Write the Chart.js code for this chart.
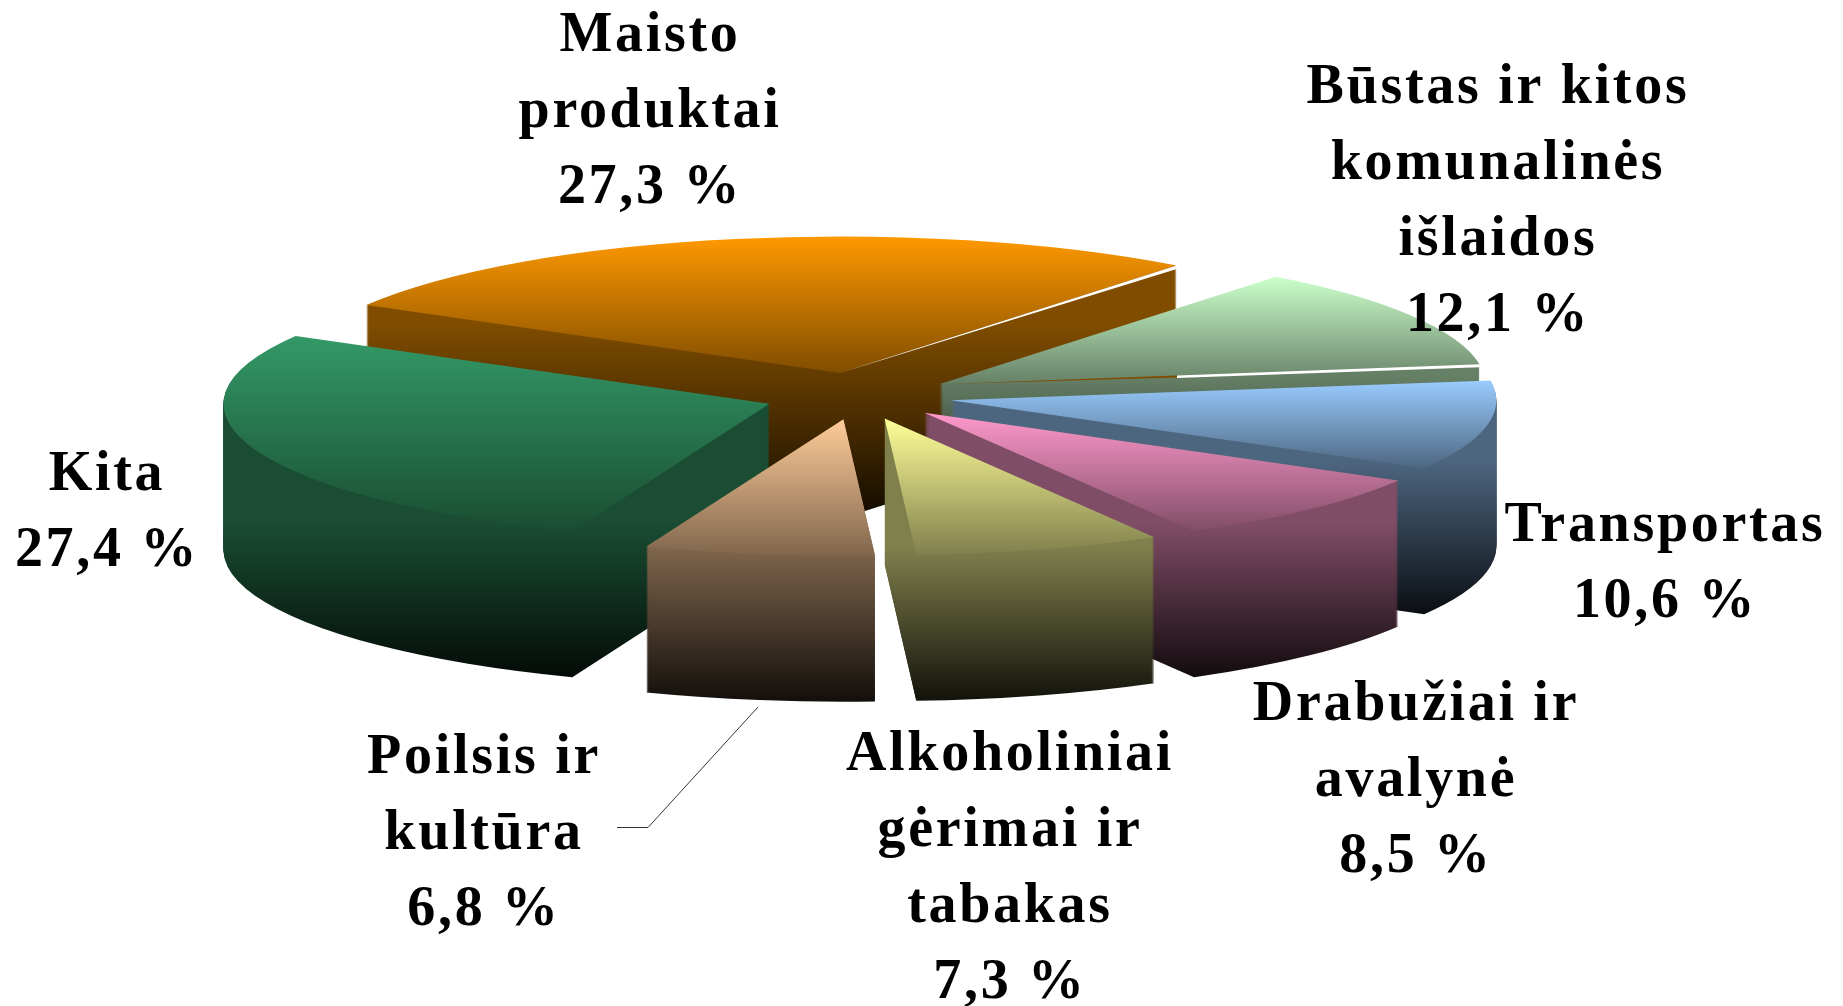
<!DOCTYPE html>
<html>
<head>
<meta charset="utf-8">
<title>Namų ūkių išlaidos</title>
<script src="https://cdn.jsdelivr.net/npm/chart.js@4/dist/chart.umd.min.js"></script>
<style>
    html, body { margin: 0; padding: 0; background: #fff; overflow: hidden; }
    canvas { display: block; }
</style>
</head>
<body>
<canvas id="pie" width="1843" height="1006"></canvas>
<script>
const categories = [
    ['Maisto', 'produktai'],
    ['Būstas ir kitos', 'komunalinės', 'išlaidos'],
    ['Transportas'],
    ['Drabužiai ir', 'avalynė'],
    ['Alkoholiniai', 'gėrimai ir', 'tabakas'],
    ['Poilsis ir', 'kultūra'],
    ['Kita']
];
const values = [27.3, 12.1, 10.6, 8.5, 7.3, 6.8, 27.4];
const colors = ['#ff9900', '#ccffcc', '#99ccff', '#ff99cc', '#ffff99', '#ffcc99', '#339966'];

// label position per slice: centre x, baseline of first line
const labelPos = [[650, 51], [1498, 103], [1665, 541], [1416, 720], [1010, 770], [484, 773], [107, 490]];
const lineStep = 76;

// fake 3D settings
const squash = 0.25;
const centerX = 858;
const centerY = 396;
const radius = 546;
const explode = 94;
const depth = 146;

function shade(hex, f) {
    const n = parseInt(hex.slice(1), 16);
    const r = Math.round((n >> 16 & 255) * f);
    const g = Math.round((n >> 8 & 255) * f);
    const b = Math.round((n & 255) * f);
    return `rgb(${r},${g},${b})`;
}

// vertical extent of a wedge, relative to its apex, before squashing
function wedgeExtent(arc) {
    const ys = [0, Math.sin(arc.startAngle) * arc.outerRadius, Math.sin(arc.endAngle) * arc.outerRadius];
    for (let k = -3; k <= 3; k++) {
        const a = Math.PI / 2 + k * Math.PI;
        if (a > arc.startAngle && a < arc.endAngle) ys.push(Math.sin(a) * arc.outerRadius);
    }
    return [Math.min(...ys), Math.max(...ys)];
}

function drawWith(arc, ctx, fill, x, y) {
    const opts = arc.options;
    const ox = arc.x, oy = arc.y;
    arc.options = { ...opts, backgroundColor: fill, borderWidth: 0 };
    arc.x = x;
    arc.y = y;
    arc.draw(ctx);
    arc.options = opts;
    arc.x = ox;
    arc.y = oy;
}

function seam(ctx, x, y, rx, ry, from, to, h0, h1, fill) {
    ctx.fillStyle = fill;
    ctx.beginPath();
    ctx.moveTo(x + rx * from, y + ry * from + h0 / squash);
    ctx.lineTo(x + rx * from, y + ry * from);
    ctx.lineTo(x + rx * to, y + ry * to);
    ctx.lineTo(x + rx * to, y + ry * to + h1 / squash);
    ctx.closePath();
    ctx.fill();
}

const pie3d = {
    id: 'pie3d',
    beforeDatasetsDraw(chart) {
        const ctx = chart.ctx;
        const arcs = chart.getDatasetMeta(0).data;
        const order = arcs.map((arc, i) => i).sort((a, b) => {
            const mid = arc => Math.sin((arc.startAngle + arc.endAngle) / 2);
            return mid(arcs[a]) - mid(arcs[b]);
        });

        ctx.save();
        ctx.translate(0, centerY);
        ctx.scale(1, squash);
        ctx.translate(0, -arcs[0].y);

        order.forEach(i => {
            const arc = arcs[i];
            const mid = (arc.startAngle + arc.endAngle) / 2;
            const x = arc.x + Math.cos(mid) * explode;
            const y = arc.y + Math.sin(mid) * explode;
            const [top, bottom] = wedgeExtent(arc);
            const d = depth / squash;

            // the back slice has its inner walls high up, so it starts fading earlier
            const fadeFrom = (i === 0 ? 50 : 8) / squash;
            const wall = ctx.createLinearGradient(0, y + bottom - fadeFrom, 0, y + bottom + d);
            wall.addColorStop(0, shade(colors[i], 0.5));
            wall.addColorStop(1, shade(colors[i], 0.07));
            for (let step = depth; step >= 1; step--) {
                drawWith(arc, ctx, wall, x, y + step / squash);
            }

            const face = ctx.createLinearGradient(0, y + top, 0, y + bottom);
            face.addColorStop(0, colors[i]);
            face.addColorStop(1, shade(colors[i], 0.5));
            drawWith(arc, ctx, face, x, y);

            // thin seams under the end edge of the two back slices
            const rx = Math.cos(arc.endAngle) * arc.outerRadius;
            const ry = Math.sin(arc.endAngle) * arc.outerRadius;
            if (i === 0) {
                seam(ctx, x, y, rx, ry, 0, 1, 0, 3.5, '#fff');
            } else if (i === 1) {
                seam(ctx, x, y, rx, ry, 0, 0.44, 0, 2, shade(colors[0], 0.5));
                seam(ctx, x, y, rx, ry, 0.44, 1, 2.5, 3, '#fff');
            }
        });
        ctx.restore();
        return false;
    },
    afterDraw(chart) {
        const ctx = chart.ctx;
        ctx.save();

        // leader line of the small slice
        ctx.strokeStyle = '#333';
        ctx.lineWidth = 1;
        ctx.beginPath();
        ctx.moveTo(758, 707);
        ctx.lineTo(648, 827.5);
        ctx.lineTo(617, 827.5);
        ctx.stroke();

        ctx.fillStyle = '#000';
        ctx.font = 'bold 56px "Liberation Serif"';
        ctx.textAlign = 'center';
        ctx.textBaseline = 'alphabetic';
        ctx.letterSpacing = '2.7px';
        categories.forEach((lines, i) => {
            const [x, y] = labelPos[i];
            const text = lines.concat(values[i].toFixed(1).replace('.', ',') + ' %');
            text.forEach((line, n) => ctx.fillText(line, x, y + n * lineStep));
        });
        ctx.restore();
    }
};

new Chart(document.getElementById('pie'), {
    type: 'pie',
    data: {
        labels: categories.map(c => c.join(' ')),
        datasets: [{
            data: values,
            backgroundColor: colors,
            borderWidth: 0,
            radius: radius
        }]
    },
    options: {
        responsive: false,
        animation: false,
        rotation: -60.2,
        radius: radius,
        layout: { padding: { right: 1843 - 2 * centerX } },
        events: [],
        plugins: {
            legend: { display: false },
            title: { display: false },
            tooltip: { enabled: false }
        }
    },
    plugins: [pie3d]
});
</script>
</body>
</html>
